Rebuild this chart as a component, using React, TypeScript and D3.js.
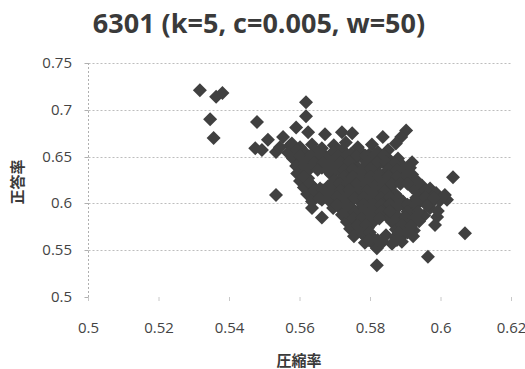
import React from "react";
import * as d3 from "d3";

const chartTitle = "6301 (k=5, c=0.005, w=50)";
const xTitle = "圧縮率";
const yTitle = "正答率";
const xTicks = [0.5, 0.52, 0.54, 0.56, 0.58, 0.6, 0.62];
const yTicks = [0.5, 0.55, 0.6, 0.65, 0.7, 0.75];

// Outlying points
const outliers: [number, number][] = [
  [0.5316, 0.721], [0.5362, 0.714], [0.538, 0.718], [0.5345, 0.69], [0.5355, 0.67],
  [0.5478, 0.687], [0.5617, 0.708], [0.5617, 0.693], [0.5532, 0.609], [0.5634, 0.595],
  [0.5662, 0.585], [0.6034, 0.628], [0.6068, 0.568], [0.5963, 0.543], [0.5818, 0.534],
  [0.6017, 0.604], [0.5989, 0.5855], [0.5983, 0.577],
];

// Upper scattered points
const upperPoints: [number, number][] = [
  [0.5473, 0.659], [0.5492, 0.657], [0.5509, 0.668], [0.5532, 0.655], [0.5543, 0.66],
  [0.5552, 0.671], [0.5572, 0.662], [0.5589, 0.681], [0.5623, 0.676], [0.5671, 0.674],
  [0.5719, 0.676], [0.5748, 0.675], [0.5835, 0.671], [0.5901, 0.678], [0.5887, 0.671],
  [0.5872, 0.664], [0.5918, 0.644],
];

// Dense main cluster
const clusterPoints: [number, number][] = [
  [0.5577, 0.664], [0.56, 0.66], [0.5634, 0.663], [0.5662, 0.659], [0.5696, 0.662], [0.573, 0.665], [0.5764, 0.66], [0.5804, 0.663],
  [0.5566, 0.654], [0.5591, 0.657], [0.5617, 0.653], [0.5643, 0.656], [0.5668, 0.652], [0.5694, 0.655], [0.5719, 0.657], [0.5745, 0.653], [0.577, 0.656], [0.5796, 0.652], [0.5821, 0.655], [0.585, 0.657],
  [0.558, 0.648], [0.5603, 0.645], [0.5626, 0.649], [0.5651, 0.646], [0.5677, 0.648], [0.5702, 0.645], [0.5728, 0.649], [0.5753, 0.646], [0.5779, 0.648], [0.5804, 0.645], [0.583, 0.649], [0.5855, 0.646], [0.5878, 0.648],
  [0.5589, 0.64], [0.5611, 0.638], [0.5637, 0.641], [0.5662, 0.638], [0.5688, 0.641], [0.5713, 0.639], [0.5739, 0.642], [0.5765, 0.638], [0.579, 0.641], [0.5816, 0.639], [0.5841, 0.642], [0.5867, 0.638], [0.5892, 0.64], [0.5912, 0.638],
  [0.5592, 0.632], [0.5614, 0.634], [0.5688, 0.631], [0.5713, 0.634], [0.5736, 0.632], [0.5759, 0.635], [0.5781, 0.631], [0.5804, 0.633], [0.5827, 0.631], [0.585, 0.634], [0.5872, 0.632], [0.5895, 0.634], [0.5918, 0.631],
  [0.56, 0.624], [0.5623, 0.627], [0.5699, 0.625], [0.5725, 0.623], [0.5748, 0.626], [0.577, 0.624], [0.5793, 0.627], [0.5816, 0.623], [0.5838, 0.626], [0.5861, 0.624], [0.5884, 0.627], [0.5906, 0.623], [0.5929, 0.625],
  [0.5611, 0.617], [0.5634, 0.619], [0.5657, 0.616], [0.5679, 0.618], [0.5705, 0.62], [0.573, 0.616], [0.5756, 0.619], [0.5781, 0.617], [0.5807, 0.62], [0.5833, 0.616], [0.5858, 0.618], [0.5918, 0.617], [0.5946, 0.619], [0.5969, 0.616],
  [0.562, 0.61], [0.5645, 0.608], [0.5671, 0.611], [0.5696, 0.609], [0.5722, 0.612], [0.5748, 0.608], [0.5773, 0.611], [0.5799, 0.609], [0.5824, 0.612], [0.585, 0.608], [0.587, 0.61], [0.5935, 0.611], [0.596, 0.608], [0.5986, 0.611], [0.6011, 0.609],
  [0.5634, 0.602], [0.5662, 0.604], [0.5688, 0.601], [0.5713, 0.603], [0.5739, 0.6], [0.5765, 0.604], [0.579, 0.601], [0.5816, 0.603], [0.5841, 0.6], [0.5867, 0.604], [0.5892, 0.602], [0.5918, 0.6], [0.5946, 0.603], [0.5974, 0.601], [0.5997, 0.603],
  [0.5694, 0.595], [0.5719, 0.593], [0.5745, 0.596], [0.577, 0.594], [0.5796, 0.597], [0.5821, 0.593], [0.5847, 0.596], [0.5872, 0.594], [0.5898, 0.597], [0.5923, 0.593], [0.5969, 0.595], [0.5991, 0.592],
  [0.5719, 0.588], [0.5745, 0.586], [0.577, 0.589], [0.5796, 0.587], [0.5821, 0.59], [0.5847, 0.586], [0.5872, 0.588], [0.5898, 0.586], [0.5923, 0.589], [0.5952, 0.587],
  [0.5733, 0.58], [0.5759, 0.582], [0.5784, 0.579], [0.581, 0.581], [0.5861, 0.58], [0.5887, 0.582], [0.5912, 0.579], [0.5938, 0.581],
  [0.5742, 0.573], [0.5767, 0.571], [0.5793, 0.574], [0.5872, 0.572], [0.5898, 0.574], [0.5923, 0.571],
  [0.5753, 0.565], [0.5779, 0.567], [0.5804, 0.564], [0.5844, 0.566], [0.587, 0.564], [0.5895, 0.567], [0.5921, 0.565],
  [0.5784, 0.558], [0.581, 0.556], [0.5835, 0.559], [0.5861, 0.557], [0.5889, 0.559],
  [0.5818, 0.552],
];

// Staggered points between the cluster rows (interior only)
const fillPoints: [number, number][] = [
  [0.56, 0.651], [0.563, 0.651], [0.5656, 0.652], [0.5708, 0.651], [0.5734, 0.652], [0.576, 0.651], [0.5786, 0.651], [0.5812, 0.652], [0.5838, 0.651],
  [0.5615, 0.644], [0.564, 0.644], [0.5665, 0.643], [0.569, 0.644], [0.5715, 0.644], [0.574, 0.644], [0.5792, 0.644], [0.5818, 0.644], [0.5843, 0.644], [0.5868, 0.643],
  [0.5625, 0.636], [0.565, 0.636], [0.5676, 0.636], [0.57, 0.637], [0.5725, 0.636], [0.575, 0.636], [0.5775, 0.636], [0.58, 0.637], [0.585, 0.636], [0.5875, 0.636], [0.59, 0.637],
  [0.5611, 0.629], [0.5725, 0.6285], [0.575, 0.629], [0.5775, 0.6285], [0.58, 0.6285], [0.5825, 0.629], [0.585, 0.6285], [0.5875, 0.6285], [0.59, 0.629],
  [0.5628, 0.621], [0.569, 0.621], [0.5712, 0.621], [0.5737, 0.622], [0.576, 0.621], [0.5785, 0.621], [0.5835, 0.621], [0.586, 0.621], [0.5885, 0.621], [0.5905, 0.621],
  [0.564, 0.6135], [0.5665, 0.614], [0.569, 0.6135], [0.5715, 0.6135], [0.574, 0.614], [0.5765, 0.6135], [0.579, 0.6135], [0.5815, 0.614], [0.584, 0.6135], [0.5955, 0.6135],
  [0.5655, 0.606], [0.568, 0.606], [0.5705, 0.607], [0.573, 0.606], [0.5755, 0.606], [0.578, 0.606], [0.5805, 0.607], [0.583, 0.606], [0.5855, 0.606], [0.588, 0.606], [0.593, 0.606], [0.5955, 0.606], [0.598, 0.606],
  [0.5705, 0.5985], [0.573, 0.598], [0.578, 0.5985], [0.5805, 0.598], [0.583, 0.5985], [0.5855, 0.5985], [0.588, 0.598], [0.5905, 0.5985], [0.593, 0.5985], [0.596, 0.598],
  [0.573, 0.591], [0.5755, 0.591], [0.578, 0.592], [0.5805, 0.591], [0.583, 0.591], [0.5855, 0.591], [0.5905, 0.591], [0.5935, 0.591],
  [0.575, 0.584], [0.5775, 0.584], [0.58, 0.585], [0.5825, 0.584], [0.5875, 0.584], [0.59, 0.585], [0.5925, 0.584],
  [0.5762, 0.576], [0.5788, 0.577], [0.589, 0.577], [0.5915, 0.576],
  [0.5773, 0.569], [0.5798, 0.569], [0.588, 0.569], [0.5905, 0.569],
  [0.5795, 0.561], [0.582, 0.561], [0.5875, 0.561],
];

const W = 525;
const H = 369;
const left = 88.5;
const right = 511.5;
const top = 63;
const bottom = 297;

export default function App() {
  const x = d3.scaleLinear().domain([0.5, 0.62]).range([left, right]);
  const y = d3.scaleLinear().domain([0.5, 0.75]).range([bottom, top]);
  const allPoints = [...outliers, ...upperPoints, ...clusterPoints, ...fillPoints];
  const r = 7;
  const diamond = `M0,${-r}L${r},0L0,${r}L${-r},0Z`;
  const fmt = (v: number) => String(+v.toFixed(2));
  return (
    <svg
      width={W}
      height={H}
      style={{ position: "absolute", left: 0, top: 0, background: "#fff" }}
    >
      <rect width={W} height={H} fill="#fff" />
      <text
        x={259}
        y={33}
        textAnchor="middle"
        fontFamily="'Open Sans', sans-serif"
        fontWeight="bold"
        fontSize={27}
        fill="#3a3a3a"
      >
        {chartTitle}
      </text>
      {yTicks.filter((t) => t > 0.5).map((t) => (
        <line
          key={"g" + t}
          x1={left}
          x2={right}
          y1={Math.round(y(t)) + 0.5}
          y2={Math.round(y(t)) + 0.5}
          stroke="#bdbdbd"
          strokeDasharray="2,2"
        />
      ))}
      <line x1={left} x2={left} y1={top} y2={bottom} stroke="#b0b0b0" strokeDasharray="2,2" />
      {yTicks.map((t) => (
        <line key={"yt" + t} x1={left - 4} x2={left} y1={Math.round(y(t)) + 0.5} y2={Math.round(y(t)) + 0.5} stroke="#b0b0b0" />
      ))}
      {xTicks.map((t) => (
        <line key={"xt" + t} x1={x(t)} x2={x(t)} y1={bottom} y2={bottom + 4} stroke="#c8c8c8" />
      ))}
      {yTicks.map((t) => (
        <text
          key={"yl" + t}
          x={72}
          y={y(t) + 5}
          textAnchor="end"
          fontFamily="'Open Sans', sans-serif"
          fontSize={15}
          fill="#444"
        >
          {fmt(t)}
        </text>
      ))}
      {xTicks.map((t) => (
        <text
          key={"xl" + t}
          x={x(t)}
          y={333}
          textAnchor="middle"
          fontFamily="'Open Sans', sans-serif"
          fontSize={15}
          fill="#444"
        >
          {fmt(t)}
        </text>
      ))}
      <g fill="#404040">
        {allPoints.map((p, i) => (
          <path key={i} d={diamond} transform={`translate(${x(p[0])},${y(p[1])})`} />
        ))}
      </g>
      <text
        x={299}
        y={366}
        textAnchor="middle"
        fontFamily="'Noto Sans CJK JP', sans-serif"
        fontWeight="bold"
        fontSize={15}
        fill="#3a3a3a"
      >
        {xTitle}
      </text>
      <text
        transform={`translate(23,182) rotate(-90)`}
        textAnchor="middle"
        fontFamily="'Noto Sans CJK JP', sans-serif"
        fontWeight="bold"
        fontSize={15}
        fill="#3a3a3a"
      >
        {yTitle}
      </text>
    </svg>
  );
}
